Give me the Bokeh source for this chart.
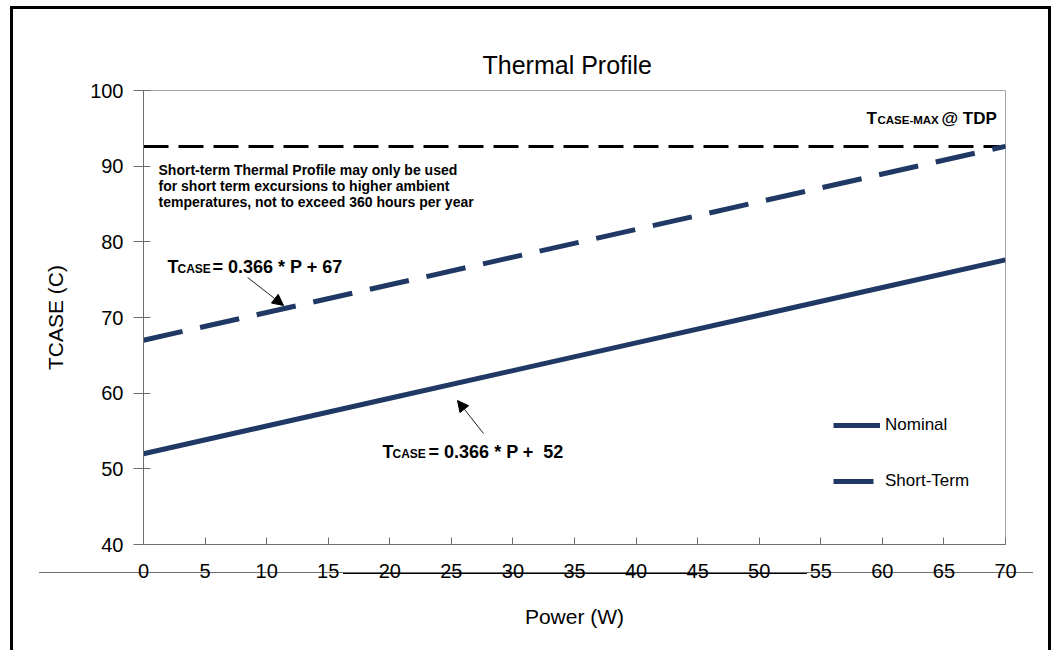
from bokeh.plotting import figure
from bokeh.models import Range1d, FixedTicker, Label, Arrow, NormalHead, Legend
from bokeh.embed import file_html
from bokeh.resources import INLINE

# ---- data ----
power = [0, 10, 20, 30, 40, 50, 60, 70]
nominal = [52.0, 55.66, 59.32, 62.98, 66.64, 70.30, 73.96, 77.62]
short_term = [67.0, 70.66, 74.32, 77.98, 81.64, 85.30, 88.96, 92.62]
tcase_max = 92.6
x_ticks = [0, 5, 10, 15, 20, 25, 30, 35, 40, 45, 50, 55, 60, 65, 70]
y_ticks = [40, 50, 60, 70, 80, 90, 100]
series_names = ["Nominal", "Short-Term"]
note_lines = [
    "Short-term Thermal Profile may only be used",
    "for short term excursions to higher ambient",
    "temperatures, not to exceed  360 hours per year",
]

FONT = "Liberation Sans"
NAVY = "#1f3864"

# decorative frame of the original picture (page border and stray rules), drawn as page CSS
deco = ", ".join([
    "linear-gradient(#000,#000) 10px 6px / 3px 660px no-repeat",
    "linear-gradient(#000,#000) 10px 6px / 1041px 3px no-repeat",
    "linear-gradient(#000,#000) 1048px 6px / 3px 660px no-repeat",
    "linear-gradient(#6e6e6e,#6e6e6e) 39px 572px / 994px 1px no-repeat",
    "linear-gradient(#000,#000) 343px 572px / 464px 2px no-repeat",
])

p = figure(width=1056, height=650, output_backend="svg", toolbar_location=None,
           x_range=Range1d(0, 70), y_range=Range1d(40, 100),
           min_border_left=143, min_border_right=51, min_border_top=90, min_border_bottom=106,
           styles={"background": deco + ", white"})
p.background_fill_color = "white"
p.border_fill_alpha = 0
p.outline_line_color = "#a6a6a6"
p.xgrid.visible = False
p.ygrid.visible = False

p.title.text = "Thermal Profile"
p.title.text_font = FONT
p.title.text_font_size = "25px"
p.title.text_font_style = "normal"
p.title.text_color = "black"
p.title.align = "left"
p.title.offset = 339
p.title.standoff = 24

for ax in (p.xaxis[0], p.yaxis[0]):
    ax.axis_line_color = "#6e6e6e"
    ax.major_tick_line_color = "#6e6e6e"
    ax.minor_tick_line_color = None
    ax.major_label_text_font = FONT
    ax.major_label_text_font_size = "20px"
    ax.major_label_text_color = "black"
    ax.axis_label_text_font = FONT
    ax.axis_label_text_font_size = "21px"
    ax.axis_label_text_font_style = "normal"
    ax.axis_label_text_color = "black"

p.xaxis.ticker = FixedTicker(ticks=x_ticks)
p.yaxis.ticker = FixedTicker(ticks=y_ticks)
p.xaxis.major_tick_in = 7
p.xaxis.major_tick_out = 0
p.xaxis.major_label_standoff = 19
p.xaxis.axis_label = "Power (W)"
p.xaxis.axis_label_standoff = 24
p.yaxis.major_tick_in = 7
p.yaxis.major_tick_out = 10
p.yaxis.major_label_standoff = 10
p.yaxis.axis_label = "TCASE (C)"
p.yaxis.axis_label_standoff = 20

# TCASE-MAX reference line
p.line([power[0], power[-1]], [tcase_max, tcase_max], line_color="black", line_width=3, line_dash="25 10")

r_nom = p.line(power, nominal, line_color=NAVY, line_width=5)
r_st = p.line(power, short_term, line_color=NAVY, line_width=5, line_dash="40 18")

legend = Legend(items=[(series_names[0], [r_nom]), (series_names[1], [r_st])],
                location=(690, 53), border_line_color=None, background_fill_alpha=0,
                padding=0, margin=0, spacing=36, glyph_width=47, glyph_height=20,
                label_height=20, label_standoff=5, label_text_font=FONT,
                label_text_font_size="17px", label_text_color="black")
p.add_layout(legend)

def lab(x, y, text, size, bold=True):
    p.add_layout(Label(x=x, y=y, text=text, text_font=FONT, text_font_size=size,
                       text_font_style="bold" if bold else "normal", text_color="black",
                       text_baseline="alphabetic", text_align="left"))

# note text
for i, t in enumerate(note_lines):
    lab(1.22, 89.43 - i * 2.11, t, "14px")

# equation labels
lab(1.95, 76.61, "T", "18px")
lab(2.76, 76.35, "CASE", "12px")
lab(5.60, 76.61, "= 0.366 * P + 67", "18px")

lab(19.41, 52.16, "T", "18px")
lab(20.22, 51.90, "CASE", "12px")
lab(23.15, 52.16, "= 0.366 * P +\u00a0 52", "18px")

lab(58.71, 96.30, "T", "17px")
lab(59.60, 96.04, "CASE-MAX", "11.5px")
lab(64.80, 96.30, "@ TDP", "17px")

# arrows
p.add_layout(Arrow(x_start=8.45, y_start=75.29, x_end=11.37, y_end=71.59,
                   line_color="#222222", line_width=1,
                   end=NormalHead(size=11, fill_color="black", line_color="black")))
p.add_layout(Arrow(x_start=27.61, y_start=54.67, x_end=25.50, y_end=59.03,
                   line_color="#222222", line_width=1,
                   end=NormalHead(size=11, fill_color="black", line_color="black")))

open("out.html", "w").write(file_html(p, INLINE))
